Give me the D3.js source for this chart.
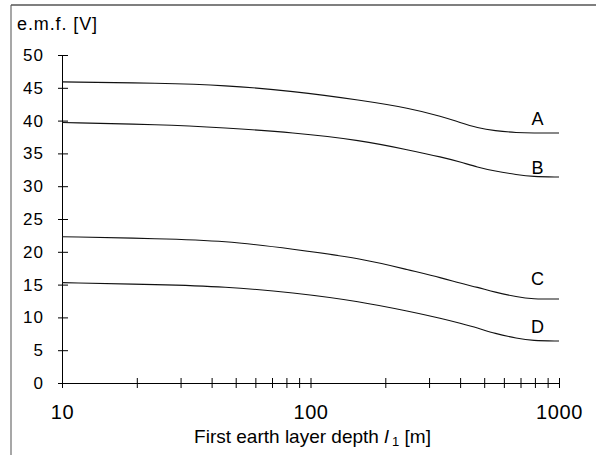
<!DOCTYPE html>
<html>
<head>
<meta charset="utf-8">
<script src="https://cdn.jsdelivr.net/npm/d3@7"></script>
<style>
  body { margin: 0; background: #fff; }
  svg { display: block; font-family: Arial, "Liberation Sans", sans-serif; }
</style>
</head>
<body>
<div id="chart"></div>
<script>
// data
const depths = [10, 25, 45, 85, 160, 250, 340, 400, 470, 550, 680, 780, 1000];
const seriesA = [45.9, 45.7, 45.4, 44.5, 43.1, 41.9, 40.6, 39.7, 38.9, 38.45, 38.15, 38.1, 38.1];
const seriesB = [39.7, 39.4, 38.9, 38.2, 37.0, 35.5, 34.4, 33.7, 32.9, 32.3, 31.75, 31.45, 31.4];
const seriesC = [22.3, 22.0, 21.7, 20.4, 19.0, 17.2, 16.0, 15.2, 14.6, 13.85, 13.1, 12.8, 12.8];
const seriesD = [15.3, 15.0, 14.7, 13.8, 12.4, 10.9, 9.8, 9.1, 8.4, 7.55, 6.8, 6.45, 6.4];
const seriesNames = ["A", "B", "C", "D"];
const labelX = 820;
const labelY = [39.3, 31.9, 14.9, 7.6];
const yTicks = [0, 5, 10, 15, 20, 25, 30, 35, 40, 45, 50];
const xTicks = [10, 20, 30, 40, 50, 60, 70, 80, 90, 100, 200, 300, 400, 500, 600, 700, 800, 900, 1000];
const xLabels = [10, 100, 1000];

const W = 596, H = 455;
const margin = {top: 55, right: 37, bottom: 72, left: 62};
const font = "Arial, 'Liberation Sans', sans-serif";

const svg = d3.select("#chart").append("svg")
    .attr("width", W)
    .attr("height", H);

// frame of the scanned figure (left + top only)
svg.append("line")
    .attr("x1", 11).attr("x2", 11).attr("y1", 5).attr("y2", H)
    .attr("stroke", "#8a8a8a").attr("stroke-width", 1.5);
svg.append("line")
    .attr("x1", 11).attr("x2", W).attr("y1", 5).attr("y2", 5)
    .attr("stroke", "#555").attr("stroke-width", 1.5);

const x = d3.scaleLog()
    .domain([10, 1000])
    .range([margin.left, W - margin.right]);

const y = d3.scaleLinear()
    .domain([0, 50])
    .range([H - margin.bottom, margin.top]);

// y axis
const yAxis = svg.append("g")
    .attr("transform", `translate(${margin.left},0)`)
    .call(d3.axisLeft(y).tickValues(yTicks).tickSize(4).tickPadding(14))
    .attr("font-family", font);
yAxis.select(".domain").attr("stroke", "#000");
yAxis.selectAll(".tick line").attr("x1", -4).attr("x2", 6).attr("stroke", "#000");
yAxis.selectAll(".tick text")
    .attr("font-size", 17)
    .attr("letter-spacing", 1)
    .attr("fill", "#000");

// x axis
const xAxis = svg.append("g")
    .attr("transform", `translate(0,${y(0)})`)
    .call(d3.axisBottom(x).tickValues(xTicks).tickSize(5)
        .tickFormat(d => xLabels.includes(d) ? d : ""))
    .attr("font-family", font);
xAxis.select(".domain").attr("stroke", "#000");
xAxis.selectAll(".tick line").attr("y1", -5).attr("y2", 5).attr("stroke", "#000");
xAxis.selectAll(".tick text")
    .attr("y", 36).attr("dy", 0)
    .attr("font-size", 20)
    .attr("letter-spacing", 0.6)
    .attr("fill", "#000");

// y title
svg.append("text")
    .attr("x", 17).attr("y", 30)
    .attr("font-size", 18)
    .attr("letter-spacing", 0.9)
    .text("e.m.f. [V]");

// x title
const xt = svg.append("text")
    .attr("x", (x(10) + x(1000)) / 2 + 2)
    .attr("y", 443)
    .attr("text-anchor", "middle")
    .attr("font-size", 19);
xt.append("tspan").text("First earth layer depth ");
xt.append("tspan").attr("font-style", "italic").text("l");
xt.append("tspan").attr("font-size", 13).attr("dy", 3).text(" 1");
xt.append("tspan").attr("dy", -3).text(" [m]");

// curves
const allSeries = [seriesA, seriesB, seriesC, seriesD];
const line = d3.line()
    .x((d, i) => x(depths[i]))
    .y(d => y(d))
    .curve(d3.curveBasis);

svg.selectAll(".curve")
    .data(allSeries)
    .join("path")
    .attr("class", "curve")
    .attr("d", line)
    .attr("fill", "none")
    .attr("stroke", "#111")
    .attr("stroke-width", 1.1);

svg.selectAll(".lbl")
    .data(seriesNames)
    .join("text")
    .attr("class", "lbl")
    .attr("x", x(labelX))
    .attr("y", (d, i) => y(labelY[i]))
    .attr("text-anchor", "middle")
    .attr("font-size", 18)
    .text(d => d);
</script>
</body>
</html>
